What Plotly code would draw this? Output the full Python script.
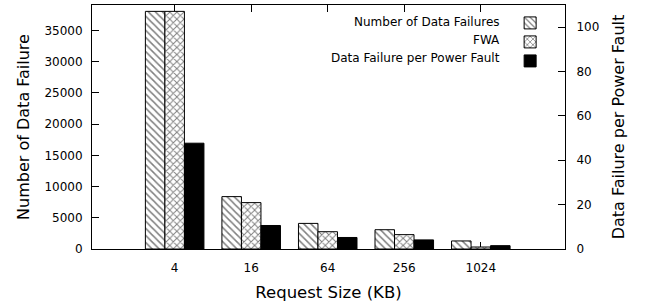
import plotly.graph_objects as go

categories = ["4", "16", "64", "256", "1024"]
data_failures = [38060, 8390, 4100, 3090, 1290]
fwa = [38060, 7430, 2770, 2300, 320]
failure_per_fault = [47.7, 10.6, 5.2, 4.1, 1.5]
series_names = ["Number of Data Failures", "FWA", "Data Failure per Power Fault"]
left_ticks = [0, 5000, 10000, 15000, 20000, 25000, 30000, 35000]
right_ticks = [0, 20, 40, 60, 80, 100]

FONT = "DejaVu Sans"
xpos = list(range(len(categories)))
bw = 0.255

fig = go.Figure()
fig.add_trace(go.Bar(
    x=xpos, y=data_failures, name=" ", width=bw, offset=-1.5 * bw,
    marker=dict(color="white", line=dict(color="black", width=1),
                pattern=dict(shape="\\", fgcolor="black", size=5, solidity=0.3, fillmode="overlay")),
    yaxis="y"))
fig.add_trace(go.Bar(
    x=xpos, y=fwa, name=" ", width=bw, offset=-0.5 * bw,
    marker=dict(color="white", line=dict(color="black", width=1),
                pattern=dict(shape="x", fgcolor="black", size=5, solidity=0.35, fillmode="overlay")),
    yaxis="y"))
fig.add_trace(go.Bar(
    x=xpos, y=failure_per_fault, name=" ", width=bw, offset=0.5 * bw,
    marker=dict(color="black", line=dict(color="black", width=1)),
    yaxis="y2"))

annotations = []
for i, nm in enumerate(series_names):
    annotations.append(dict(text=nm, x=0.867, y=0.930 - i * 0.073, xref="paper", yref="paper",
                            xanchor="right", yanchor="middle", showarrow=False,
                            font=dict(family=FONT, size=12, color="black")))

fig.update_layout(
    width=646, height=307,
    margin=dict(l=92, r=81, t=5, b=58),
    plot_bgcolor="white", paper_bgcolor="white",
    barmode="overlay",
    font=dict(family=FONT, size=12, color="black"),
    showlegend=True,
    legend=dict(x=0.884, y=0.986, xanchor="left", yanchor="top", bgcolor="rgba(0,0,0,0)",
                font=dict(size=10), tracegroupgap=0),
    annotations=annotations,
    xaxis=dict(
        range=[-1.08, 5.10], tickvals=xpos, ticktext=categories, automargin=False,
        ticks="inside", ticklen=7, tickcolor="black", showline=True, linecolor="black",
        linewidth=1, mirror="ticks", showgrid=False, zeroline=False, layer="below traces",
        ticklabelstandoff=8,
        title=dict(text="Request Size (KB)", font=dict(size=16.5), standoff=12),
    ),
    yaxis=dict(
        range=[0, 39080], tickvals=left_ticks, ticktext=[str(v) for v in left_ticks],
        automargin=False, ticks="inside", ticklen=7, tickcolor="black",
        showline=True, linecolor="black", linewidth=1, mirror=True, showgrid=False,
        zeroline=False, ticklabelstandoff=6,
        title=dict(text="Number of Data Failure", font=dict(size=16), standoff=10),
    ),
    yaxis2=dict(
        range=[0, 110], tickvals=right_ticks, overlaying="y", side="right", automargin=False,
        ticks="inside", ticklen=7, tickcolor="black", showline=True, linecolor="black",
        linewidth=1, showgrid=False, zeroline=False, ticklabelstandoff=8,
        title=dict(text="Data Failure per Power Fault", font=dict(size=16), standoff=14),
    ),
)

fig.write_html("out.html", config={"displayModeBar": False},
               post_script="document.body.style.margin='0';")
